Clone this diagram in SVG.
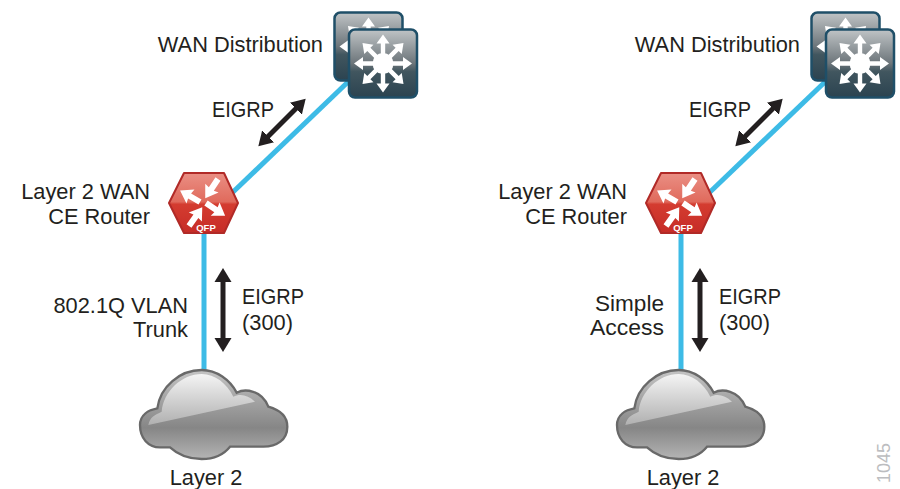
<svg xmlns="http://www.w3.org/2000/svg" width="900" height="489" viewBox="0 0 900 489">
<style>
text{font-family:"Liberation Sans",Arial,sans-serif;font-size:21.800px;fill:#231f20}
.e{text-anchor:end}.m{text-anchor:middle}
.link{stroke:#3dbbe6;stroke-width:5;fill:none}
.dbl{stroke:#231f20;stroke-width:5;fill:none;marker-start:url(#ah);marker-end:url(#ah)}
.qfp{font-size:9.500px;font-weight:bold;fill:#fff;text-anchor:middle}
.id{font-size:18px;fill:#bcbdc0;text-anchor:middle}
</style>
<defs>
<marker id="ah" markerUnits="userSpaceOnUse" markerWidth="20" markerHeight="20" refX="1" refY="10" orient="auto-start-reverse"><path d="M0,1.500 L14,10 L0,18.500 Z" fill="#231f20"/></marker>
<linearGradient id="sw" x1="0" y1="0" x2="0" y2="1"><stop offset="0" stop-color="#c0c4c6"/><stop offset=".5" stop-color="#6c757a"/><stop offset=".62" stop-color="#41565f"/><stop offset="1" stop-color="#2b4350"/></linearGradient>
<linearGradient id="rt" x1="0" y1="0" x2="0" y2="1"><stop offset="0" stop-color="#ea8f84"/><stop offset=".48" stop-color="#e06a5c"/><stop offset=".52" stop-color="#d43c30"/><stop offset="1" stop-color="#c62c27"/></linearGradient>
<linearGradient id="cl" x1="0" y1="0" x2="0" y2="1"><stop offset="0" stop-color="#c4c4c4"/><stop offset=".65" stop-color="#868686"/><stop offset="1" stop-color="#b4b4b4"/></linearGradient>
<linearGradient id="cg" x1="0" y1="0" x2="0" y2="1"><stop offset="0" stop-color="#f4f4f4"/><stop offset="1" stop-color="#b0b0b0"/></linearGradient>
<polygon id="a8" points="-2.200,-8 -2.200,-20 -6.500,-20 0,-29 6.500,-20 2.200,-20 2.200,-8" fill="#fff"/>
<polygon id="a4" points="0,-3 12,-3 11,-8 23,0 11,8 12,3 0,3" fill="#fff"/>
<g id="switch">
<rect x="-34" y="-34" width="68" height="68" rx="6" fill="url(#sw)" stroke="#1f4f68" stroke-width="2.500"/>
<circle r="10.500" fill="#fff"/>
<use href="#a8"/><use href="#a8" transform="rotate(45)"/><use href="#a8" transform="rotate(90)"/><use href="#a8" transform="rotate(135)"/><use href="#a8" transform="rotate(180)"/><use href="#a8" transform="rotate(225)"/><use href="#a8" transform="rotate(270)"/><use href="#a8" transform="rotate(315)"/>
</g>
<g id="router">
<polygon points="169,203 184,173 224,173 238,203 224,233 184,233" fill="url(#rt)" stroke="#b12a27" stroke-width="2" stroke-linejoin="round"/>
<use href="#a4" transform="translate(200,202) rotate(210)"/>
<use href="#a4" transform="translate(218,179) rotate(123.700)"/>
<use href="#a4" transform="translate(206,203) rotate(33.700)"/>
<use href="#a4" transform="translate(189,226) rotate(-54.800)"/>
</g>
<g id="cloud">
<g transform="translate(130,360) scale(.33333)">
<path d="M30,195 C30,165 55,150 82,145 C90,80 150,30 215,30 C260,30 300,60 320,98 C345,85 395,90 415,140 C450,150 472,170 472,200 C472,240 440,260 400,260 L300,260 C280,285 250,297 215,297 C180,297 145,285 120,262 L90,262 C55,262 30,235 30,195 Z" fill="url(#cl)" stroke="#696969" stroke-width="7"/>
<path d="M55,195 C60,170 75,165 95,155 C100,95 155,42 215,42 C255,42 290,70 310,110 C330,100 355,105 375,125 Z" fill="url(#cg)"/>
</g>
</g>
</defs>
<g id="connectors">
<line class="link" x1="232" y1="193" x2="350" y2="80"/>
<line class="link" x1="204" y1="232" x2="204" y2="372"/>
<line class="dbl" x1="267.500" y1="137" x2="296.500" y2="108"/>
<line class="dbl" x1="223" y1="281" x2="223" y2="339"/>
<line class="link" x1="709" y1="193" x2="827" y2="80"/>
<line class="link" x1="681" y1="232" x2="681" y2="372"/>
<line class="dbl" x1="744.500" y1="137" x2="773.500" y2="108"/>
<line class="dbl" x1="700" y1="281" x2="700" y2="339"/>
</g>
<g id="wan-left">
<use href="#switch" transform="translate(368.500,46.500)"/>
<use href="#switch" transform="translate(383,63.500)"/>
<text class="e" x="323" y="52">WAN Distribution</text>
</g>
<g id="router-left">
<use href="#router"/>
<text class="qfp" x="206" y="231">QFP</text>
<text class="e" x="150" y="199">Layer 2 WAN</text>
<text class="e" x="150" y="224">CE Router</text>
</g>
<g id="cloud-left">
<use href="#cloud"/>
<text class="m" x="206" y="485">Layer 2</text>
</g>
<g id="wan-right">
<use href="#switch" transform="translate(845.500,46.500)"/>
<use href="#switch" transform="translate(860,63.500)"/>
<text class="e" x="800" y="52">WAN Distribution</text>
</g>
<g id="router-right">
<use href="#router" transform="translate(477,0)"/>
<text class="qfp" x="683" y="231">QFP</text>
<text class="e" x="627" y="199">Layer 2 WAN</text>
<text class="e" x="627" y="224">CE Router</text>
</g>
<g id="cloud-right">
<use href="#cloud" transform="translate(477,0)"/>
<text class="m" x="683" y="485">Layer 2</text>
</g>
<g id="labels">
<text x="212" y="117" textLength="62" lengthAdjust="spacingAndGlyphs">EIGRP</text>
<text x="689" y="117" textLength="62" lengthAdjust="spacingAndGlyphs">EIGRP</text>
<text class="e" x="188" y="313">802.1Q VLAN</text>
<text class="e" x="188" y="337">Trunk</text>
<text x="242" y="304" textLength="62" lengthAdjust="spacingAndGlyphs">EIGRP</text>
<text x="242" y="330">(300)</text>
<text class="e" x="664" y="311" textLength="69" lengthAdjust="spacingAndGlyphs">Simple</text>
<text class="e" x="664" y="335" textLength="74" lengthAdjust="spacingAndGlyphs">Access</text>
<text x="719" y="304" textLength="62" lengthAdjust="spacingAndGlyphs">EIGRP</text>
<text x="719" y="330">(300)</text>
<text class="id" transform="translate(890,463) rotate(-90)">1045</text>
</g>
</svg>
